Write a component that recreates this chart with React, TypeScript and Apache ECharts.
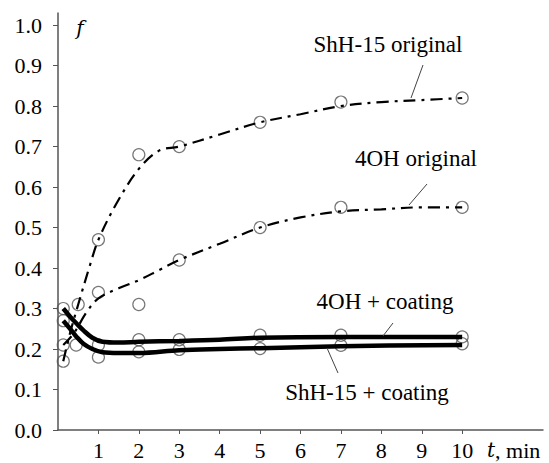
import React, { useEffect, useRef } from "react";
import * as echarts from "echarts";

const xTickValues = [1, 2, 3, 4, 5, 6, 7, 8, 9, 10];
const yTickValues = [0, 0.1, 0.2, 0.3, 0.4, 0.5, 0.6, 0.7, 0.8, 0.9, 1.0];

// measured points (t, f)
const shOrigPts = [[0.13, 0.17], [0.5, 0.31], [1, 0.47], [2, 0.68], [3, 0.70], [5, 0.76], [7, 0.81], [10, 0.82]];
const ohOrigPts = [[0.13, 0.21], [0.45, 0.21], [1, 0.34], [2, 0.31], [3, 0.42], [5, 0.50], [7, 0.55], [10, 0.55]];
const ohCoatPts = [[0.13, 0.30], [1, 0.21], [2, 0.223], [3, 0.223], [5, 0.234], [7, 0.234], [10, 0.23]];
const shCoatPts = [[0.13, 0.27], [1, 0.18], [2, 0.193], [3, 0.199], [5, 0.201], [7, 0.209], [10, 0.213]];

// fitted curves
const shOrigFit = [[0.13, 0.17], [0.3, 0.24], [0.5, 0.31], [0.8, 0.41], [1, 0.47], [1.45, 0.56], [2, 0.645], [2.5, 0.69], [3, 0.70], [4, 0.73], [5, 0.76], [6, 0.78], [7, 0.80], [8, 0.81], [9, 0.815], [10, 0.82]];
const ohOrigFit = [[0.13, 0.21], [0.4, 0.24], [0.7, 0.29], [1, 0.325], [1.5, 0.35], [2, 0.37], [2.5, 0.395], [3, 0.42], [4, 0.46], [5, 0.50], [6, 0.525], [7, 0.54], [8, 0.545], [9, 0.55], [10, 0.55]];
const ohCoatFit = [[0.13, 0.30], [0.3, 0.28], [0.46, 0.263], [0.63, 0.246], [0.85, 0.228], [1.1, 0.218], [1.5, 0.216], [2, 0.218], [3, 0.22], [4, 0.223], [5, 0.228], [7, 0.23], [10, 0.23]];
const shCoatFit = [[0.13, 0.27], [0.3, 0.25], [0.46, 0.23], [0.63, 0.213], [0.85, 0.2], [1.1, 0.192], [1.5, 0.19], [2, 0.19], [3, 0.197], [4, 0.2], [5, 0.202], [7, 0.207], [10, 0.21]];

const FONT = "Liberation Serif";
const ITALIC_FONT = "DejaVu Serif";

function measure(s: string, size: number, family: string, italic = false): number {
  try {
    const ctx = document.createElement("canvas").getContext("2d");
    if (!ctx) return s.length * size * 0.5;
    ctx.font = `${italic ? "italic " : ""}${size}px "${family}"`;
    return ctx.measureText(s).width;
  } catch (e) {
    return s.length * size * 0.5;
  }
}

export default function App() {
  const ref = useRef<HTMLDivElement>(null);
  useEffect(() => {
    if (!ref.current) return;
    const chart = echarts.init(ref.current, null, { renderer: "svg" });
    const dashDot = [12, 6, 3, 6];
    const scatter = (data: number[][]) => ({
      type: "scatter",
      data,
      symbol: "circle",
      symbolSize: 12,
      z: 1,
      itemStyle: { color: "rgba(0,0,0,0)", borderColor: "#555", borderWidth: 1.2 },
    });
    const fit = (data: number[][], thick: boolean) => ({
      type: "line",
      data,
      smooth: 0.35,
      showSymbol: false,
      z: 3,
      lineStyle: thick
        ? { color: "#000", width: 4.5, type: "solid" }
        : { color: "#000", width: 2.2, type: dashDot },
    });
    chart.setOption({
      animation: false,
      backgroundColor: "#fff",
      textStyle: { fontFamily: FONT },
      grid: { left: 58, right: 6, top: 13, bottom: 33 },
      xAxis: {
        type: "value",
        min: 0,
        max: 12,
        interval: 1,
        splitLine: { show: false },
        axisLine: { onZero: false, lineStyle: { color: "#555", width: 1.5 } },
        axisTick: { show: true, length: 4, customValues: xTickValues, lineStyle: { color: "#555" } },
        axisLabel: { show: false },
      },
      yAxis: {
        type: "value",
        min: 0,
        max: 1.03,
        interval: 0.1,
        splitLine: { show: false },
        axisLine: { show: true, lineStyle: { color: "#555", width: 1.5 } },
        axisTick: { show: true, length: 5, customValues: yTickValues, lineStyle: { color: "#555" } },
        axisLabel: { show: false },
      },
      series: [
        scatter(shOrigPts),
        scatter(ohOrigPts),
        scatter(ohCoatPts),
        scatter(shCoatPts),
        fit(shOrigFit, false),
        fit(ohOrigFit, false),
        fit(ohCoatFit, true),
        fit(shCoatFit, true),
      ],
    });

    // all texts left-anchored (serif renders reliably that way)
    const txt = (text: string, x: number, y: number, size: number, italic = false) => ({
      type: "text",
      x,
      y,
      z: 10,
      style: {
        text,
        fontFamily: italic ? ITALIC_FONT : FONT,
        fontStyle: italic ? "italic" : "normal",
        fontSize: size,
        fill: "#000",
        align: "left",
        verticalAlign: "middle",
      },
    });
    const centered = (text: string, cx: number, y: number, size: number, italic = false) =>
      txt(text, cx - measure(text, size, italic ? ITALIC_FONT : FONT, italic) / 2, y, size, italic);
    const leader = (x1: number, y1: number, x2: number, y2: number) => ({
      type: "line",
      shape: { x1, y1, x2, y2 },
      style: { stroke: "#444", lineWidth: 1 },
      z: 10,
    });

    const xLabels = xTickValues.map((v) => {
      const px = chart.convertToPixel({ xAxisIndex: 0 }, v) as number;
      return centered(String(v), px, 450, 22);
    });
    const yLabels = yTickValues.map((v) => {
      const py = chart.convertToPixel({ yAxisIndex: 0 }, v) as number;
      const s = v.toFixed(1);
      return txt(s, 42 - measure(s, 22, FONT), py, 22);
    });
    const tW = measure("t", 20, ITALIC_FONT, true);

    chart.setOption({
      graphic: [
        centered("f", 80, 28, 20, true),
        centered("ShH-15 original", 388, 44, 23),
        leader(423, 65, 411, 98),
        centered("4OH original", 416, 158, 23),
        leader(427, 184, 409, 205),
        centered("4OH + coating", 385, 301, 23),
        leader(393, 323, 383, 336),
        centered("ShH-15 + coating", 367, 392, 23),
        leader(338, 373, 327, 348),
        txt("t", 487, 450, 20, true),
        txt(", min", 487 + tW, 450, 22),
        ...xLabels,
        ...yLabels,
      ],
    });
    return () => chart.dispose();
  }, []);
  return (
    <div
      ref={ref}
      style={{ position: "fixed", left: 0, top: 0, width: 549, height: 463, background: "#fff" }}
    />
  );
}
